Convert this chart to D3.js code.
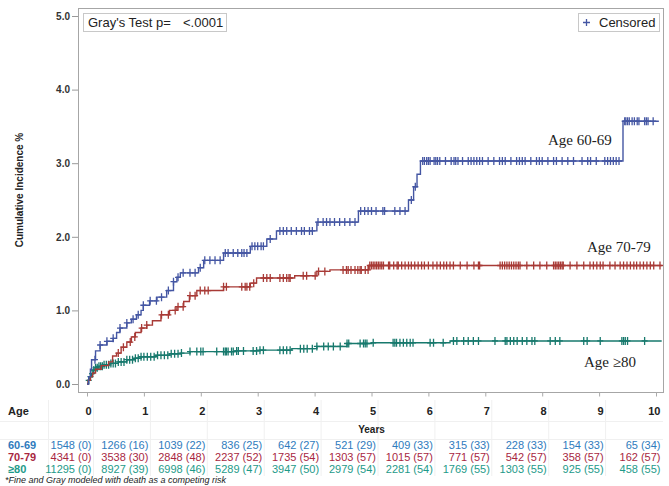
<!DOCTYPE html>
<html><head><meta charset="utf-8">
<script src="https://cdn.jsdelivr.net/npm/d3@7"></script>
<style>body{margin:0;background:#fff}svg{display:block}</style>
</head><body><svg id="c" width="669" height="486"></svg>
<script>
// ---------- DATA ----------
const years = [0,1,2,3,4,5,6,7,8,9,10];
const yTicks = [0,1,2,3,4,5];
const groups = ["60-69","70-79","≥80"];
const curveLabels = ["Age 60-69","Age 70-79","Age ≥80"];

// 60-69 cumulative incidence steps (time, value %)
const t6069 = [0.03,0.06,0.08,0.15,0.23,0.35,0.46,0.52,0.58,0.70,0.78,0.87,0.95,0.99,1.10,1.23,1.40,1.52,1.58,1.64,1.96,2.05,2.40,2.87,3.16,3.33,4.04,4.77,5.65,5.74,5.80,5.86,9.42];
const v6069 = [0.10,0.20,0.33,0.45,0.53,0.58,0.62,0.70,0.76,0.83,0.88,0.94,1.00,1.07,1.13,1.18,1.27,1.39,1.45,1.51,1.58,1.68,1.78,1.87,1.97,2.08,2.20,2.35,2.50,2.68,2.85,3.03,3.57];
const end6069 = 10.05;
const c6069 = [0.14,0.23,0.35,0.46,0.58,0.70,0.81,0.90,0.99,1.11,1.22,1.31,1.43,1.52,1.60,1.69,1.81,1.90,1.99,2.07,2.16,2.25,2.34,2.43,2.48,2.57,2.65,2.72,2.76,2.81,2.90,2.95,3.00,3.06,3.10,3.22,3.39,3.45,3.51,3.59,3.68,3.77,3.82,3.91,3.96,4.06,4.15,4.21,4.27,4.35,4.44,4.53,4.62,4.71,4.81,4.88,4.94,5.00,5.08,5.20,5.23,5.41,5.50,5.59,5.70,5.77,5.90,5.93,5.97,6.00,6.03,6.10,6.13,6.16,6.20,6.30,6.40,6.45,6.48,6.52,6.60,6.70,6.75,6.80,6.85,6.90,6.95,7.05,7.15,7.25,7.30,7.35,7.45,7.55,7.60,7.65,7.70,7.80,7.90,7.95,8.00,8.10,8.20,8.25,8.35,8.45,8.55,8.70,8.80,8.85,8.95,9.10,9.15,9.20,9.25,9.30,9.35,9.45,9.47,9.50,9.53,9.58,9.62,9.67,9.70,9.80,9.83,9.86,9.95];

// 70-79
const t7079 = [0.02,0.06,0.10,0.15,0.25,0.38,0.45,0.52,0.60,0.70,0.78,0.85,0.95,1.05,1.15,1.30,1.45,1.58,1.70,1.80,1.93,2.40,2.87,2.98,3.65,4.04,4.27,4.95];
const v7079 = [0.05,0.10,0.15,0.20,0.25,0.30,0.38,0.42,0.50,0.57,0.64,0.70,0.76,0.80,0.86,0.94,1.00,1.05,1.12,1.20,1.27,1.32,1.37,1.44,1.47,1.53,1.55,1.61];
const end7079 = 10.1;
const c7079 = [0.55,0.64,0.76,0.84,0.96,1.05,1.31,1.43,1.55,1.60,1.69,1.81,1.90,1.99,2.07,2.13,2.40,2.45,2.72,2.78,2.81,2.86,2.93,3.10,3.16,3.22,3.39,3.45,3.51,3.55,3.57,3.80,3.86,4.01,4.07,4.18,4.50,4.56,4.59,4.64,4.71,4.76,4.80,4.82,4.89,4.94,4.97,5.00,5.03,5.06,5.09,5.12,5.15,5.18,5.21,5.30,5.32,5.39,5.45,5.47,5.53,5.59,5.65,5.70,5.76,5.82,5.88,5.93,6.00,6.08,6.15,6.21,6.27,6.32,6.38,6.44,6.56,6.68,6.80,6.88,6.90,7.26,7.30,7.34,7.38,7.42,7.46,7.50,7.54,7.58,7.61,7.73,7.85,7.96,8.08,8.20,8.23,8.26,8.29,8.32,8.35,8.37,8.49,8.61,8.73,8.84,8.90,8.96,9.02,9.07,9.19,9.28,9.37,9.43,9.49,9.55,9.61,9.66,9.72,9.78,9.84,9.90,9.96,10.07];

// ≥80
const t80 = [0.02,0.05,0.08,0.11,0.15,0.20,0.29,0.40,0.55,0.70,0.85,0.95,1.20,1.45,1.64,1.81,2.60,3.04,3.60,4.04,4.57,5.00,6.38];
const v80 = [0.05,0.10,0.14,0.19,0.22,0.24,0.26,0.28,0.30,0.33,0.35,0.37,0.39,0.41,0.42,0.44,0.45,0.46,0.48,0.51,0.55,0.56,0.585];
const end80 = 10.1;
const c80 = [0.03,0.06,0.09,0.12,0.15,0.18,0.21,0.24,0.27,0.30,0.34,0.38,0.42,0.46,0.50,0.55,0.60,0.65,0.70,0.75,0.80,0.85,0.90,0.95,1.00,1.06,1.12,1.18,1.24,1.30,1.36,1.42,1.48,1.54,1.60,1.66,1.81,1.93,2.00,2.04,2.28,2.40,2.43,2.45,2.48,2.54,2.57,2.63,2.66,2.75,2.92,2.98,3.04,3.10,3.39,3.45,3.51,3.57,3.75,3.81,3.87,3.96,4.04,4.16,4.24,4.33,4.45,4.57,4.60,4.80,4.86,4.89,4.92,5.03,5.38,5.41,5.44,5.50,5.56,5.62,5.68,5.73,6.03,6.09,6.26,6.44,6.50,6.62,6.70,6.79,6.88,7.17,7.35,7.38,7.44,7.50,7.56,7.65,7.73,7.82,7.87,8.14,8.23,8.31,8.73,8.79,9.02,9.40,9.43,9.46,9.50,9.80];

// number at risk (events)
const risk6069 = ["1548 (0)","1266 (16)","1039 (22)","836 (25)","642 (27)","521 (29)","409 (33)","315 (33)","228 (33)","154 (33)","65 (34)"];
const risk7079 = ["4341 (0)","3538 (30)","2848 (48)","2237 (52)","1735 (54)","1303 (57)","1015 (57)","771 (57)","542 (57)","358 (57)","162 (57)"];
const risk80   = ["11295 (0)","8927 (39)","6998 (46)","5289 (47)","3947 (50)","2979 (54)","2281 (54)","1769 (55)","1303 (55)","925 (55)","458 (55)"];

// ---------- CHART ----------
const svg = d3.select("#c");
const frame = {l:78, t:8, r:663, b:392};
const x = d3.scaleLinear().domain([0,10]).range([87,656]);
const y = d3.scaleLinear().domain([0,5]).range([384,16]);

const curveColors = ["#4456a3","#a83a36","#17796d"];
const tableColors = ["#2f7bbd","#a8273f","#1e9a89"];

// frame
svg.append("rect").attr("x",frame.l+0.5).attr("y",frame.t+0.5)
  .attr("width",frame.r-frame.l).attr("height",frame.b-frame.t)
  .attr("fill","none").attr("stroke","#a6a6a6").attr("stroke-width",1);

// y axis
const yAxis = d3.axisLeft(y).tickValues(yTicks).tickFormat(d3.format(".1f")).tickSize(6).tickPadding(2);
const gy = svg.append("g").attr("transform",`translate(${frame.l},0)`).call(yAxis);
gy.select(".domain").remove();
gy.selectAll("line").attr("stroke","#999");
gy.selectAll("text").attr("font-family","Liberation Sans, Arial, sans-serif").attr("font-size",10).attr("font-weight","bold").attr("fill","#333");

svg.append("text").attr("transform","translate(23,190) rotate(-90)")
  .attr("text-anchor","middle").attr("font-family","Liberation Sans, Arial, sans-serif")
  .attr("font-size",10).attr("font-weight","bold").attr("fill","#222").text("Cumulative Incidence %");

// x axis ticks (labels go into the table header)
const xAxis = d3.axisBottom(x).tickValues(years).tickSize(4).tickFormat("");
const gx = svg.append("g").attr("transform",`translate(0,${frame.b+0.5})`).call(xAxis);
gx.select(".domain").remove();
gx.selectAll("line").attr("stroke","#aaa");

// curves
const series = [
  {t:t6069, v:v6069, end:end6069, c:c6069},
  {t:t7079, v:v7079, end:end7079, c:c7079},
  {t:t80,   v:v80,   end:end80,   c:c80}
];
const line = d3.line().x(d=>x(d[0])).y(d=>y(d[1])).curve(d3.curveStepAfter);
function valueAt(s, tt){
  let val = 0;
  for(let i=0;i<s.t.length;i++){ if(s.t[i] <= tt) val = s.v[i]; }
  return val;
}
[2,1,0].forEach(i=>{
  const s = series[i];
  const pts = [[0,0]];
  s.t.forEach((tt,k)=>pts.push([tt,s.v[k]]));
  pts.push([s.end, s.v[s.v.length-1]]);
  const g = svg.append("g");
  g.append("path").attr("d",line(pts)).attr("fill","none")
   .attr("stroke",curveColors[i]).attr("stroke-width",1.4);
  g.selectAll("path.cm").data(s.c).join("path").attr("class","cm")
   .attr("d",d=>{const px=x(d), py=y(valueAt(s,d)); return `M${px-3},${py}H${px+3}M${px},${py-4}V${py+4}`;})
   .attr("stroke",curveColors[i]).attr("stroke-width",1.3).attr("fill","none");
});

// curve labels
const labelPos = [[548,145],[587,252],[584,367]];
curveLabels.forEach((txt,i)=>{
  svg.append("text").attr("x",labelPos[i][0]).attr("y",labelPos[i][1])
    .attr("font-family","Liberation Serif, Times New Roman, serif").attr("font-size",15)
    .attr("fill","#222").text(txt);
});

// legend boxes
svg.append("rect").attr("x",83.5).attr("y",13.5).attr("width",143).attr("height",18)
  .attr("fill","#fff").attr("stroke","#c8c8c8");
svg.append("text").attr("x",88).attr("y",27).attr("font-family","Liberation Sans, Arial, sans-serif")
  .attr("font-size",13).attr("fill","#222").text("Gray's Test p=");
svg.append("text").attr("x",183).attr("y",27).attr("font-family","Liberation Sans, Arial, sans-serif")
  .attr("font-size",13).attr("fill","#222").text("<.0001");

svg.append("rect").attr("x",578.5).attr("y",13.5).attr("width",81).attr("height",18)
  .attr("fill","#fff").attr("stroke","#c8c8c8");
svg.append("path").attr("d","M583,22.5H590M586.5,19V26").attr("stroke",curveColors[0]).attr("stroke-width",1.3);
svg.append("text").attr("x",599).attr("y",27).attr("font-family","Liberation Sans, Arial, sans-serif")
  .attr("font-size",13).attr("fill","#222").text("Censored");

// ---------- TABLE ----------
const tf = "Liberation Sans, Arial, sans-serif";
const grid = svg.append("g").attr("stroke","#f0f0f0").attr("stroke-width",1);
[48].concat(years.slice(0,10).map(d=>x(d)+6)).forEach(px=>{
  grid.append("line").attr("x1",px+0.5).attr("x2",px+0.5).attr("y1",400).attr("y2",476);
});
[421,439].forEach(py=>grid.append("line").attr("x1",0).attr("x2",663).attr("y1",py+0.5).attr("y2",py+0.5));

svg.append("text").attr("x",8).attr("y",415).attr("font-family",tf).attr("font-size",11)
  .attr("font-weight","bold").attr("fill","#222").text("Age");
svg.selectAll("text.hdr").data(years).join("text").attr("class","hdr")
  .attr("x",d=>x(d)+4.5).attr("y",415).attr("text-anchor","end")
  .attr("font-family",tf).attr("font-size",11).attr("font-weight","bold").attr("fill","#222").text(d=>d);
svg.append("text").attr("x",x(5)).attr("y",433).attr("text-anchor","middle").attr("font-family",tf)
  .attr("font-size",10).attr("font-weight","bold").attr("fill","#222").text("Years");

const rows = [risk6069, risk7079, risk80];
const rowY = [449,461,473];
rows.forEach((r,i)=>{
  svg.append("text").attr("x",8).attr("y",rowY[i]).attr("font-family",tf).attr("font-size",11)
    .attr("font-weight","bold").attr("fill",tableColors[i]).text(groups[i]);
  svg.selectAll(`text.r${i}`).data(r).join("text").attr("class",`r${i}`)
    .attr("x",(d,k)=>x(years[k])+4.5).attr("y",rowY[i]).attr("text-anchor","end")
    .attr("font-family",tf).attr("font-size",11).attr("fill",tableColors[i]).text(d=>d);
});
svg.append("text").attr("x",5).attr("y",483).attr("font-family",tf).attr("font-size",9)
  .attr("font-style","italic").attr("fill","#222").text("*Fine and Gray modeled with death as a competing risk");
</script></body></html>
